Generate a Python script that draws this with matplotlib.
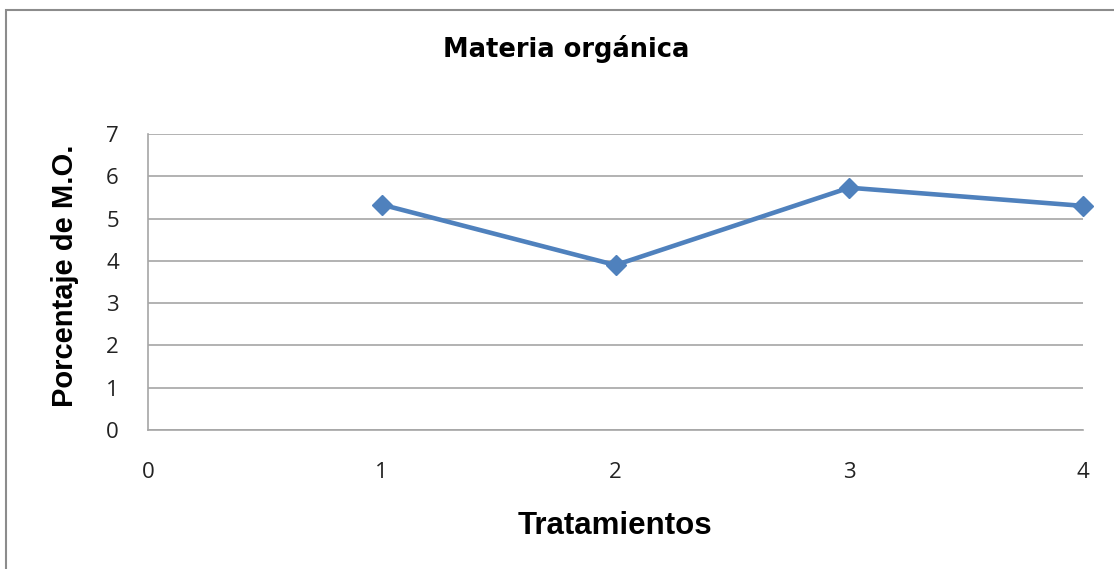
import numpy as np
import matplotlib.pyplot as plt
from matplotlib.patches import Rectangle

tratamientos = [1, 2, 3, 4]
materia_organica = [5.33, 3.90, 5.73, 5.30]

x_ticks = [0, 1, 2, 3, 4]
y_ticks = [0, 1, 2, 3, 4, 5, 6, 7]

linea = "#4F81BD"
rejilla = "#A6A6A6"

fig = plt.figure(figsize=(11.14, 5.69), dpi=100)
fig.patch.set_facecolor("white")
# marco del grafico (se corta a la derecha y abajo)
fig.patches.append(Rectangle((6 / 1114, -0.1), 1.2, (569 - 10) / 569 + 0.1,
                             transform=fig.transFigure, fill=False,
                             edgecolor="#8C8C8C", linewidth=1.5))

ax = fig.add_axes([148 / 1114, 139 / 569, (1083 - 148) / 1114, (430 - 134) / 569])
ax.plot(tratamientos, materia_organica, color=linea, linewidth=3.3,
        marker="D", markersize=10.5, markerfacecolor=linea,
        markeredgecolor=linea, clip_on=False, zorder=3)

ax.set_xlim(0, 4)
ax.set_ylim(0, 7)
ax.set_xticks(x_ticks)
ax.set_yticks(y_ticks)
ax.grid(axis="y", color=rejilla, linewidth=1.2)
ax.set_axisbelow(True)
for lado in ["top", "right"]:
    ax.spines[lado].set_visible(False)
for lado in ["left", "bottom"]:
    ax.spines[lado].set_color(rejilla)
    ax.spines[lado].set_linewidth(1.2)
ax.tick_params(length=0, labelsize=16, colors="#222222")
ax.tick_params(axis="x", pad=23)
ax.tick_params(axis="y", pad=21)
for lab in ax.get_xticklabels() + ax.get_yticklabels():
    lab.set_fontfamily("Open Sans")

fig.text(566 / 1114, 1 - 57 / 569, "Materia orgánica", ha="center", va="baseline",
         fontsize=18.5, fontweight="bold", family="DejaVu Sans")
fig.text(615 / 1114, 1 - 534 / 569, "Tratamientos", ha="center", va="baseline",
         fontsize=22.5, fontweight="bold", family="Liberation Sans")
fig.text(65 / 1114, 1 - 276 / 569, "Porcentaje de M.O.", ha="center", va="center",
         rotation=90, fontsize=21, fontweight="bold", family="Liberation Sans")

fig.savefig("out.png", dpi=100)
